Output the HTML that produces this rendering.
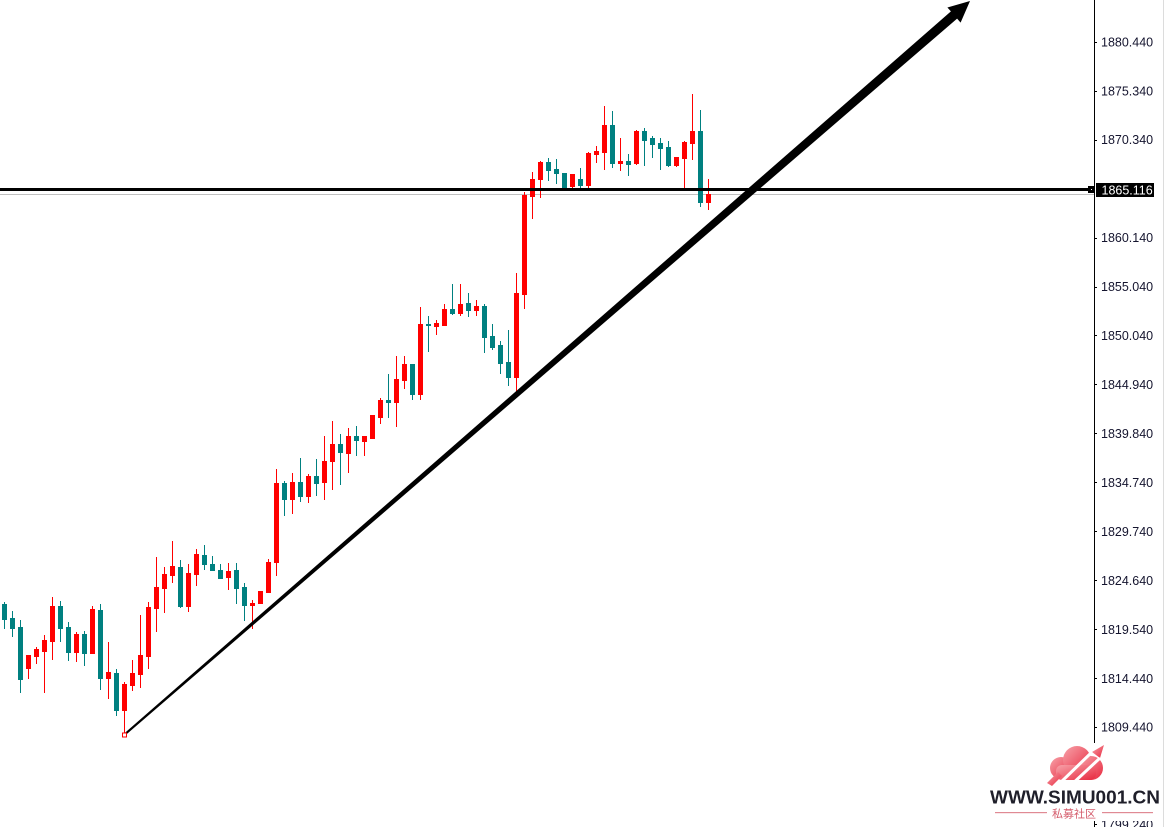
<!DOCTYPE html>
<html><head><meta charset="utf-8">
<style>
html,body{margin:0;padding:0;background:#fff;}
svg{display:block;}
.ax{font-family:"Liberation Sans",Tahoma,sans-serif;font-size:12.5px;fill:#14142e;}
</style></head>
<body>
<svg width="1167" height="827" viewBox="0 0 1167 827" xmlns="http://www.w3.org/2000/svg">
<rect x="0" y="0" width="1167" height="827" fill="#fff"/>
<rect x="0" y="194" width="1094" height="1" fill="#c0c0c0"/>
<g fill="#ff0000" shape-rendering="crispEdges">
<rect x="28" y="655" width="1" height="24"/><rect x="26" y="655" width="5" height="14"/>
<rect x="36" y="647" width="1" height="17"/><rect x="34" y="649" width="5" height="8"/>
<rect x="44" y="635" width="1" height="58"/><rect x="42" y="640" width="5" height="12"/>
<rect x="52" y="597" width="1" height="63"/><rect x="50" y="606" width="5" height="36"/>
<rect x="76" y="632" width="1" height="30"/><rect x="74" y="634" width="5" height="19"/>
<rect x="92" y="606" width="1" height="48"/><rect x="90" y="609" width="5" height="45"/>
<rect x="108" y="642" width="1" height="57"/><rect x="106" y="672" width="5" height="7"/>
<rect x="124" y="682" width="1" height="54"/><rect x="122" y="684" width="5" height="27"/>
<rect x="132" y="660" width="1" height="31"/><rect x="130" y="673" width="5" height="13"/>
<rect x="140" y="615" width="1" height="73"/><rect x="138" y="655" width="5" height="20"/>
<rect x="148" y="602" width="1" height="67"/><rect x="146" y="607" width="5" height="50"/>
<rect x="156" y="557" width="1" height="75"/><rect x="154" y="587" width="5" height="22"/>
<rect x="164" y="567" width="1" height="46"/><rect x="162" y="574" width="5" height="15"/>
<rect x="172" y="541" width="1" height="42"/><rect x="170" y="566" width="5" height="10"/>
<rect x="188" y="564" width="1" height="48"/><rect x="186" y="573" width="5" height="34"/>
<rect x="196" y="549" width="1" height="37"/><rect x="194" y="554" width="5" height="21"/>
<rect x="228" y="563" width="1" height="27"/><rect x="226" y="571" width="5" height="7"/>
<rect x="252" y="600" width="1" height="29"/><rect x="250" y="603" width="5" height="3"/>
<rect x="260" y="591" width="1" height="13"/><rect x="258" y="591" width="5" height="13"/>
<rect x="268" y="559" width="1" height="34"/><rect x="266" y="562" width="5" height="31"/>
<rect x="276" y="469" width="1" height="107"/><rect x="274" y="483" width="5" height="80"/>
<rect x="292" y="473" width="1" height="41"/><rect x="290" y="482" width="5" height="18"/>
<rect x="308" y="474" width="1" height="29"/><rect x="306" y="476" width="5" height="21"/>
<rect x="324" y="436" width="1" height="64"/><rect x="322" y="461" width="5" height="22"/>
<rect x="332" y="421" width="1" height="69"/><rect x="330" y="444" width="5" height="18"/>
<rect x="348" y="428" width="1" height="45"/><rect x="346" y="436" width="5" height="18"/>
<rect x="364" y="436" width="1" height="20"/><rect x="362" y="436" width="5" height="6"/>
<rect x="372" y="415" width="1" height="24"/><rect x="370" y="415" width="5" height="24"/>
<rect x="380" y="398" width="1" height="26"/><rect x="378" y="400" width="5" height="18"/>
<rect x="396" y="356" width="1" height="71"/><rect x="394" y="379" width="5" height="24"/>
<rect x="404" y="356" width="1" height="33"/><rect x="402" y="364" width="5" height="17"/>
<rect x="420" y="307" width="1" height="93"/><rect x="418" y="324" width="5" height="71"/>
<rect x="436" y="320" width="1" height="15"/><rect x="434" y="323" width="5" height="4"/>
<rect x="444" y="304" width="1" height="22"/><rect x="442" y="309" width="5" height="17"/>
<rect x="460" y="284" width="1" height="32"/><rect x="458" y="304" width="5" height="10"/>
<rect x="476" y="300" width="1" height="16"/><rect x="474" y="306" width="5" height="5"/>
<rect x="516" y="273" width="1" height="121"/><rect x="514" y="293" width="5" height="85"/>
<rect x="524" y="192" width="1" height="117"/><rect x="522" y="195" width="5" height="100"/>
<rect x="532" y="172" width="1" height="47"/><rect x="530" y="179" width="5" height="18"/>
<rect x="540" y="161" width="1" height="37"/><rect x="538" y="162" width="5" height="18"/>
<rect x="572" y="174" width="1" height="14"/><rect x="570" y="174" width="5" height="13"/>
<rect x="588" y="152" width="1" height="37"/><rect x="586" y="153" width="5" height="33"/>
<rect x="596" y="146" width="1" height="17"/><rect x="594" y="151" width="5" height="4"/>
<rect x="604" y="106" width="1" height="64"/><rect x="602" y="125" width="5" height="28"/>
<rect x="620" y="138" width="1" height="33"/><rect x="618" y="161" width="5" height="3"/>
<rect x="636" y="130" width="1" height="35"/><rect x="634" y="131" width="5" height="33"/>
<rect x="676" y="157" width="1" height="10"/><rect x="674" y="157" width="5" height="9"/>
<rect x="684" y="141" width="1" height="49"/><rect x="682" y="142" width="5" height="17"/>
<rect x="692" y="94" width="1" height="66"/><rect x="690" y="131" width="5" height="13"/>
<rect x="708" y="179" width="1" height="31"/><rect x="706" y="194" width="5" height="9"/>
</g>
<g fill="#008080" shape-rendering="crispEdges">
<rect x="4" y="602" width="1" height="27"/><rect x="2" y="604" width="5" height="16"/>
<rect x="12" y="611" width="1" height="26"/><rect x="10" y="618" width="5" height="11"/>
<rect x="20" y="620" width="1" height="73"/><rect x="18" y="627" width="5" height="53"/>
<rect x="60" y="601" width="1" height="41"/><rect x="58" y="606" width="5" height="23"/>
<rect x="68" y="622" width="1" height="39"/><rect x="66" y="627" width="5" height="26"/>
<rect x="84" y="631" width="1" height="35"/><rect x="82" y="634" width="5" height="20"/>
<rect x="100" y="604" width="1" height="86"/><rect x="98" y="610" width="5" height="69"/>
<rect x="116" y="669" width="1" height="47"/><rect x="114" y="673" width="5" height="38"/>
<rect x="180" y="560" width="1" height="48"/><rect x="178" y="567" width="5" height="40"/>
<rect x="204" y="545" width="1" height="25"/><rect x="202" y="555" width="5" height="10"/>
<rect x="212" y="556" width="1" height="15"/><rect x="210" y="564" width="5" height="7"/>
<rect x="220" y="564" width="1" height="15"/><rect x="218" y="570" width="5" height="9"/>
<rect x="236" y="563" width="1" height="41"/><rect x="234" y="570" width="5" height="19"/>
<rect x="244" y="583" width="1" height="38"/><rect x="242" y="587" width="5" height="19"/>
<rect x="284" y="481" width="1" height="35"/><rect x="282" y="483" width="5" height="17"/>
<rect x="300" y="458" width="1" height="44"/><rect x="298" y="482" width="5" height="15"/>
<rect x="316" y="459" width="1" height="37"/><rect x="314" y="476" width="5" height="8"/>
<rect x="340" y="434" width="1" height="51"/><rect x="338" y="444" width="5" height="9"/>
<rect x="356" y="426" width="1" height="30"/><rect x="354" y="436" width="5" height="5"/>
<rect x="388" y="374" width="1" height="44"/><rect x="386" y="400" width="5" height="3"/>
<rect x="412" y="364" width="1" height="36"/><rect x="410" y="364" width="5" height="31"/>
<rect x="428" y="316" width="1" height="36"/><rect x="426" y="324" width="5" height="2"/>
<rect x="452" y="284" width="1" height="31"/><rect x="450" y="309" width="5" height="5"/>
<rect x="468" y="293" width="1" height="24"/><rect x="466" y="303" width="5" height="8"/>
<rect x="484" y="304" width="1" height="49"/><rect x="482" y="306" width="5" height="32"/>
<rect x="492" y="324" width="1" height="26"/><rect x="490" y="336" width="5" height="12"/>
<rect x="500" y="341" width="1" height="33"/><rect x="498" y="345" width="5" height="19"/>
<rect x="508" y="330" width="1" height="56"/><rect x="506" y="362" width="5" height="16"/>
<rect x="548" y="158" width="1" height="23"/><rect x="546" y="162" width="5" height="9"/>
<rect x="556" y="159" width="1" height="25"/><rect x="554" y="169" width="5" height="5"/>
<rect x="564" y="173" width="1" height="16"/><rect x="562" y="173" width="5" height="15"/>
<rect x="580" y="168" width="1" height="20"/><rect x="578" y="179" width="5" height="7"/>
<rect x="612" y="111" width="1" height="57"/><rect x="610" y="125" width="5" height="39"/>
<rect x="628" y="154" width="1" height="22"/><rect x="626" y="161" width="5" height="4"/>
<rect x="644" y="128" width="1" height="38"/><rect x="642" y="131" width="5" height="10"/>
<rect x="652" y="136" width="1" height="22"/><rect x="650" y="138" width="5" height="7"/>
<rect x="660" y="138" width="1" height="32"/><rect x="658" y="143" width="5" height="6"/>
<rect x="668" y="141" width="1" height="26"/><rect x="666" y="147" width="5" height="19"/>
<rect x="700" y="110" width="1" height="97"/><rect x="698" y="131" width="5" height="72"/>
</g>
<rect x="0" y="188" width="1088" height="3" fill="#000"/>
<rect x="1088" y="186" width="6" height="7" fill="#000"/>
<rect x="1091" y="189" width="1" height="1" fill="#fff"/>
<polygon points="123.3,734.2 950.9,11.4 947.4,7.5 970,1 960.6,22.6 957.1,18.6 124.7,735.8" fill="#000"/>
<rect x="122.5" y="733" width="4" height="4" fill="#fff" stroke="#ff0000" stroke-width="1"/>
<rect x="1094" y="0" width="1" height="827" fill="#000"/>
<rect x="1163" y="0" width="1" height="827" fill="#dcdcdc"/>
<g fill="#000">
<rect x="1094" y="42" width="3" height="1"/>
<rect x="1094" y="91" width="3" height="1"/>
<rect x="1094" y="140" width="3" height="1"/>
<rect x="1094" y="238" width="3" height="1"/>
<rect x="1094" y="287" width="3" height="1"/>
<rect x="1094" y="335" width="3" height="1"/>
<rect x="1094" y="384" width="3" height="1"/>
<rect x="1094" y="433" width="3" height="1"/>
<rect x="1094" y="482" width="3" height="1"/>
<rect x="1094" y="531" width="3" height="1"/>
<rect x="1094" y="580" width="3" height="1"/>
<rect x="1094" y="629" width="3" height="1"/>
<rect x="1094" y="678" width="3" height="1"/>
<rect x="1094" y="727" width="3" height="1"/>
<rect x="1094" y="824" width="3" height="1"/>
</g>
<g class="ax">
<text x="1101" y="46.5">1880.440</text>
<text x="1101" y="95.5">1875.340</text>
<text x="1101" y="144">1870.340</text>
<text x="1101" y="242">1860.140</text>
<text x="1101" y="291">1855.040</text>
<text x="1101" y="340">1850.040</text>
<text x="1101" y="389">1844.940</text>
<text x="1101" y="438">1839.840</text>
<text x="1101" y="487">1834.740</text>
<text x="1101" y="536">1829.740</text>
<text x="1101" y="585">1824.640</text>
<text x="1101" y="634">1819.540</text>
<text x="1101" y="683">1814.440</text>
<text x="1101" y="731.5">1809.440</text>
<text x="1101" y="829">1799.240</text>
</g>
<rect x="1096" y="183" width="58" height="14" fill="#000"/>
<text x="1101.5" y="194.5" class="ax" style="fill:#fff">1865.116</text>
<rect x="985" y="743" width="178" height="78" fill="#fff"/>
<defs>
<linearGradient id="wm" x1="0" y1="0" x2="1" y2="1">
<stop offset="0" stop-color="#f7a3aa"/>
<stop offset="1" stop-color="#e8283e"/>
</linearGradient>
</defs>
<g fill="url(#wm)">
<circle cx="1061" cy="768" r="11"/>
<circle cx="1077" cy="760" r="14"/>
<circle cx="1091" cy="768" r="12"/>
<rect x="1056" y="765" width="40" height="15" rx="6"/>
<polygon points="1047,783 1058,772 1062,776 1052,786"/>
<polygon points="1092,752 1104,745 1100,758"/>
</g>
<g stroke="#fff" stroke-width="3">
<line x1="1058" y1="785" x2="1092" y2="752"/>
<line x1="1070" y1="786" x2="1100" y2="758"/>
</g>
<text x="990" y="803.5" textLength="170" lengthAdjust="spacingAndGlyphs" style="font-family:'Liberation Sans',sans-serif;font-weight:bold;font-size:18.5px;fill:#1f1f2a">WWW.SIMU001.CN</text>
<rect x="995" y="812" width="52" height="1.2" fill="#e08a94"/>
<rect x="1102" y="812" width="51" height="1.2" fill="#e08a94"/>
<text x="1074" y="817.5" text-anchor="middle" style="font-family:'Liberation Sans','Noto Sans CJK SC',sans-serif;font-size:11px;fill:#d45a6a">私募社区</text>
</svg>
</body></html>
